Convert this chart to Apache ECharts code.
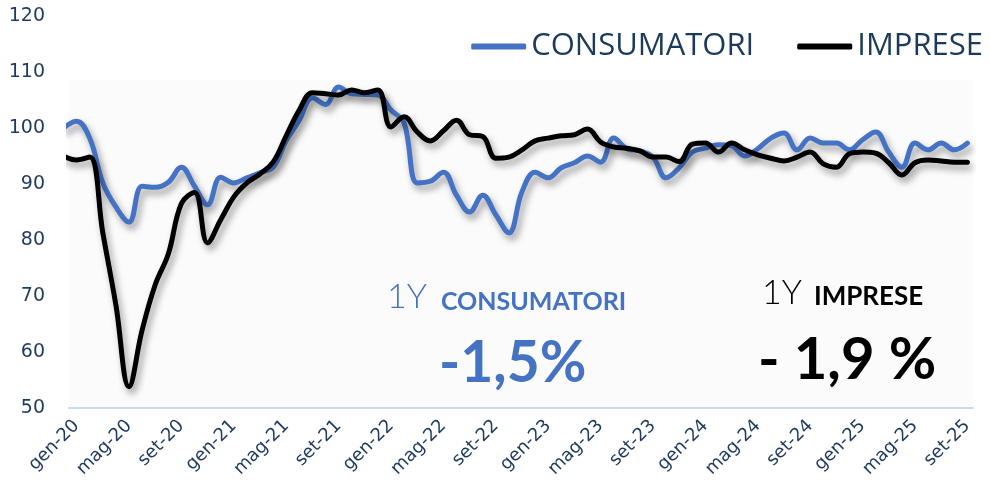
<!DOCTYPE html>
<html><head><meta charset="utf-8">
<script src="https://cdn.jsdelivr.net/npm/echarts@6/dist/echarts.min.js"></script>
<style>html,body{margin:0;padding:0;background:#fff}#c{width:990px;height:491px}</style>
</head><body><div id="c"></div>
<script>
const months = ['dic-19',
 'gen-20','feb-20','mar-20','apr-20','mag-20','giu-20','lug-20','ago-20','set-20','ott-20','nov-20','dic-20',
 'gen-21','feb-21','mar-21','apr-21','mag-21','giu-21','lug-21','ago-21','set-21','ott-21','nov-21','dic-21',
 'gen-22','feb-22','mar-22','apr-22','mag-22','giu-22','lug-22','ago-22','set-22','ott-22','nov-22','dic-22',
 'gen-23','feb-23','mar-23','apr-23','mag-23','giu-23','lug-23','ago-23','set-23','ott-23','nov-23','dic-23',
 'gen-24','feb-24','mar-24','apr-24','mag-24','giu-24','lug-24','ago-24','set-24','ott-24','nov-24','dic-24',
 'gen-25','feb-25','mar-25','apr-25','mag-25','giu-25','lug-25','ago-25','set-25'];

const consumatori = [
 100.0, 101.2, 98.2, 90.2, 85.9, 83.2, 89.6, 89.4, 90.3, 93.0,
 89.6, 86.3, 91.2, 90.2, 91.1, 92.0, 93.0, 97.7, 101.4, 105.4,
 104.2, 107.3, 106.1, 106.0, 105.9, 103.2, 100.9, 90.2, 90.5, 92.1,
 88.0, 85.0, 88.0, 84.5, 81.3, 88.6, 92.1, 91.1, 92.9, 93.8,
 95.0, 93.9, 98.2, 96.3, 95.9, 94.8, 91.1, 92.9, 95.7, 96.4,
 97.0, 96.8, 95.0, 96.3, 98.2, 99.1, 96.1, 98.2, 97.3, 97.3,
 96.1, 97.9, 99.3, 95.7, 93.0, 97.3, 96.1, 97.3, 96.1, 97.3];

const imprese = [
 95.0, 94.3, 94.8, 81.3, 68.4, 53.8, 63.9, 72.0, 77.5, 86.5,
 88.5, 79.5, 83.6, 87.7, 90.2, 91.8, 93.9, 98.6, 103.2, 106.3,
 106.1, 105.9, 106.8, 106.3, 106.8, 100.2, 102.0, 99.3, 97.7, 99.5,
 101.4, 98.8, 98.5, 94.6, 94.8, 96.1, 97.7, 98.2, 98.6, 98.8,
 99.8, 97.5, 96.6, 96.4, 95.9, 94.8, 94.8, 94.0, 97.1, 97.3,
 95.7, 97.3, 96.1, 95.2, 94.6, 94.1, 94.8, 95.7, 93.6, 93.0,
 95.4, 95.7, 95.5, 93.8, 91.6, 93.8, 94.3, 94.1, 93.9, 93.9];

const tickLabels = ['gen-20','mag-20','set-20','gen-21','mag-21','set-21','gen-22','mag-22','set-22',
 'gen-23','mag-23','set-23','gen-24','mag-24','set-24','gen-25','mag-25','set-25'];
const seriesNames = ['CONSUMATORI','IMPRESE'];
const yMin = 50, yMax = 120, yStep = 10;

const navy = '#1F3A5F';
const blue = '#4472C4';
const tickIdx = tickLabels.map(l => months.indexOf(l));

const chart = echarts.init(document.getElementById('c'), null, {renderer:'canvas'});
const shadow = {shadowColor:'rgba(0,0,0,0.38)', shadowBlur:7, shadowOffsetX:3, shadowOffsetY:5};
chart.setOption({
  animation:false,
  backgroundColor:'#ffffff',
  grid:{left:69, right:17, top:16, bottom:83, containLabel:false},
  legend:{
    right:2, top:26, itemWidth:55, itemHeight:6, itemGap:43, icon:'roundRect',
    textStyle:{fontSize:31, color:'#1B3A5C', fontFamily:'Open Sans', fontWeight:'normal'},
    data:seriesNames
  },
  xAxis:{
    type:'value', min:0.42, max:69.43,
    axisLine:{show:true, onZero:false, lineStyle:{color:'#C5DCF2', width:2}},
    axisTick:{show:false, customValues:tickIdx},
    splitLine:{show:false},
    axisLabel:{
      customValues:tickIdx, rotate:45, margin:15, color:navy, fontSize:18, fontFamily:'DejaVu Sans',
      formatter:v => months[Math.round(v)]
    }
  },
  yAxis:{
    type:'value', min:yMin, max:yMax, interval:yStep,
    axisLine:{show:false}, axisTick:{show:false}, splitLine:{show:false},
    axisLabel:{color:navy, fontSize:19, margin:24, fontFamily:'DejaVu Sans'}
  },
  graphic:[
    {type:'rect', z:-10, shape:{x:69, y:80, width:904, height:328}, style:{fill:'#fbfbfb'}},
    {type:'text', left:387, top:280, style:{
      text:'{a|1Y}{b|CONSUMATORI}', fill:blue,
      rich:{a:{fontSize:34, fontFamily:'Lato', fontWeight:300, fill:blue, verticalAlign:'bottom'},
            b:{fontSize:25, fontWeight:'bold', fontFamily:'Lato', fill:blue, verticalAlign:'bottom', padding:[0,0,0,14]}}
    }},
    {type:'text', left:439, top:335, style:{text:'-1,5%', fill:blue, fontSize:57, fontWeight:'bold', fontFamily:'Lato'}},
    {type:'text', left:762, top:276, style:{
      text:'{a|1Y}{b|IMPRESE}', fill:'#000',
      rich:{a:{fontSize:34, fontFamily:'Lato', fontWeight:300, fill:'#000', verticalAlign:'bottom'},
            b:{fontSize:26, fontWeight:'bold', fontFamily:'Lato', fill:'#000', verticalAlign:'bottom', padding:[0,0,0,12]}}
    }},
    {type:'text', left:758, top:331, style:{text:'- 1,9 %', fill:'#000', fontSize:58, fontWeight:'bold', fontFamily:'Lato'}}
  ],
  series:[
    {name:seriesNames[0], type:'line', smooth:0.4, showSymbol:false, clip:true,
     data:consumatori.map((v,i)=>[i,v]), color:blue,
     lineStyle:Object.assign({width:5, color:blue, cap:'round'}, shadow)},
    {name:seriesNames[1], type:'line', smooth:0.4, showSymbol:false, clip:true,
     data:imprese.map((v,i)=>[i,v]), color:'#000',
     lineStyle:Object.assign({width:5, color:'#000', cap:'round'}, shadow)}
  ]
});
</script></body></html>
